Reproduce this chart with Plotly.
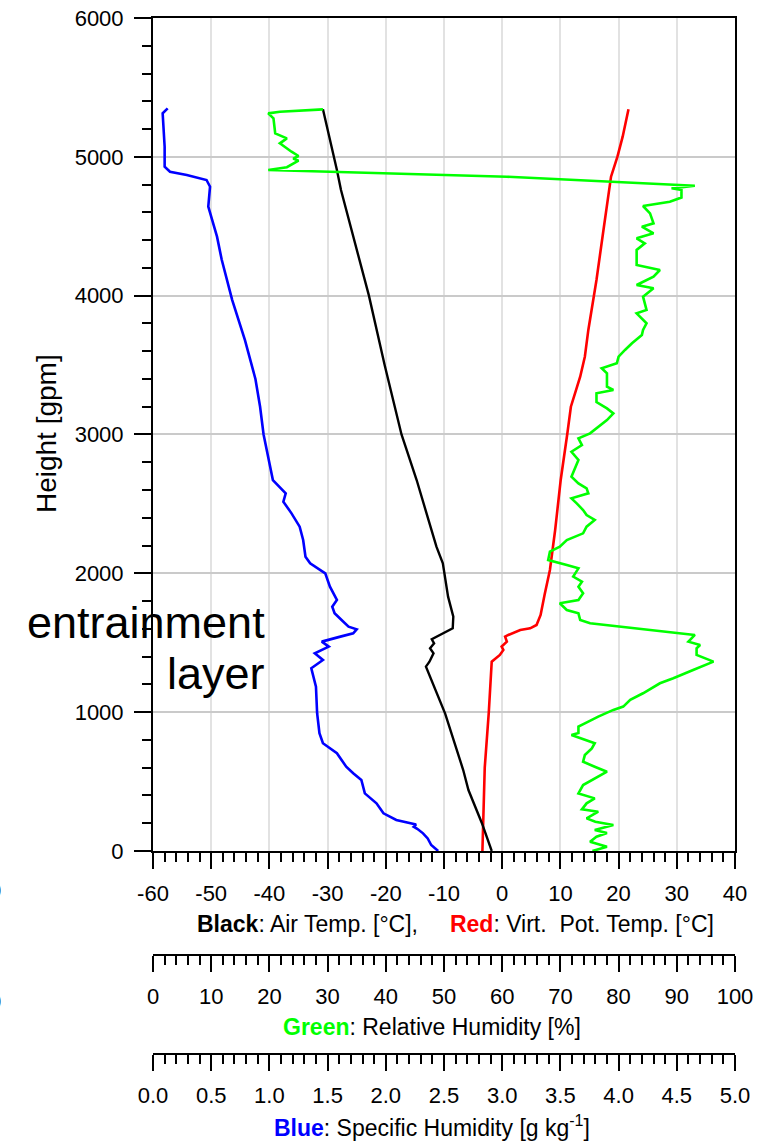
import plotly.graph_objects as go

FONT = "Liberation Sans, Arial, sans-serif"

# ---- Sounding profile data (height in gpm) ----
# Air temperature [°C] (black)
air_height = [0, 202, 439, 583, 990, 1328, 1363, 1424, 1460, 1496, 1525, 1556, 1604, 1688,
              1832, 2072, 2192, 2432, 2672, 3000, 3500, 4000, 4425, 4593, 4761, 4905, 5073,
              5217, 5342]
air_temp = [-1.8, -3.5, -5.8, -6.7, -9.8, -13.1, -12.5, -11.8, -12.4, -11.7, -12.1, -10.7,
            -8.5, -8.4, -9.3, -10.2, -11.3, -13.0, -14.7, -17.3, -20.2, -22.9, -25.6, -26.7,
            -27.7, -28.4, -29.3, -30.0, -30.8]

# Virtual potential temperature [°C] (red)
vpt_height = [0, 200, 600, 1000, 1330, 1364, 1412, 1448, 1472, 1508, 1544, 1556, 1592, 1604,
              1628, 1700, 1850, 2024, 2312, 2672, 3009, 3200, 3416, 3560, 3753, 4113, 4473,
              4857, 5001, 5145, 5342]
vpt_temp = [-3.4, -3.3, -3.0, -2.3, -1.9, -1.8, -0.4, 0.2, -0.1, 0.8, 0.5, 1.05, 3.1, 4.8,
            5.9, 6.6, 7.3, 8.2, 9.1, 10.05, 11.2, 11.8, 13.4, 14.2, 14.8, 16.2, 17.4, 18.7,
            19.8, 20.7, 21.7]

# Relative humidity [%] (green)
rh_height = [0, 30, 67, 103, 130, 151, 187, 210, 235, 283,
             300, 343, 379, 415, 475, 511, 571, 607, 643, 691,
             739, 776, 836, 850, 896, 932, 968, 1016, 1040, 1088,
             1136, 1208, 1244, 1304, 1364, 1412, 1460, 1484, 1508, 1556,
             1580, 1604, 1640, 1664, 1712, 1736, 1784, 1808, 1856, 1904,
             1940, 1976, 2036, 2060, 2096, 2156, 2192, 2240, 2288, 2336,
             2384, 2420, 2456, 2504, 2540, 2576, 2612, 2648, 2696, 2816,
             2876, 2924, 2972, 3008, 3044, 3104, 3152, 3188, 3234, 3297,
             3321, 3345, 3441, 3477, 3513, 3561, 3609, 3657, 3717, 3753,
             3801, 3873, 3897, 3993, 4053, 4077, 4137, 4185, 4221, 4329,
             4377, 4413, 4449, 4497, 4521, 4593, 4646, 4677, 4707, 4761,
             4773, 4792, 4857, 4905, 4925, 4953, 4972, 4987, 5006, 5037,
             5073, 5097, 5133, 5157, 5169, 5277, 5313, 5325, 5342]
rh_value = [75.5, 78.0, 75.1, 76.2, 78.0, 75.9, 79.1, 76.0, 74.5, 76.5,
            73.7, 74.5, 75.9, 73.1, 73.9, 75.4, 78.0, 75.9, 73.9, 74.2,
            75.4, 75.9, 71.9, 73.1, 73.1, 74.8, 76.5, 79.1, 80.8, 82.0,
            84.2, 87.1, 89.4, 92.8, 96.3, 93.4, 93.4, 94.0, 92.0, 93.1,
            88.2, 83.1, 75.1, 73.4, 73.1, 71.1, 69.9, 73.1, 73.9, 73.1,
            73.7, 72.2, 73.1, 71.1, 67.9, 68.2, 69.9, 71.1, 73.9, 74.5,
            75.9, 74.5, 73.9, 72.8, 71.9, 74.8, 74.5, 73.1, 71.9, 73.1,
            71.9, 73.7, 73.1, 75.1, 76.2, 78.0, 79.1, 78.0, 76.2, 76.2,
            79.1, 78.0, 78.0, 77.1, 79.7, 80.0, 81.1, 82.3, 84.0, 84.2,
            84.8, 83.1, 84.8, 84.2, 86.0, 83.1, 86.0, 87.1, 83.1, 83.1,
            84.5, 83.1, 86.0, 84.0, 86.0, 85.4, 84.2, 88.8, 90.8, 90.8,
            89.1, 93.1, 60.8, 19.8, 23.0, 24.1, 25.0, 24.1, 25.0, 23.8,
            22.7, 21.8, 23.0, 21.8, 21.0, 20.7, 19.8, 21.8, 29.2]

# Specific humidity [g/kg] (blue)
q_height = [0, 43, 90, 127, 160, 175, 190, 210, 223, 271,
            343, 415, 511, 560, 607, 704, 776, 848, 992, 1184,
            1316, 1376, 1424, 1472, 1508, 1544, 1568, 1597, 1616, 1664,
            1712, 1760, 1808, 1904, 2000, 2072, 2120, 2240, 2336, 2432,
            2516, 2576, 2672, 3000, 3200, 3400, 3680, 3970, 4260, 4425,
            4641, 4785, 4833, 4869, 4893, 4929, 5073, 5313, 5349]
q_value = [2.45, 2.39, 2.36, 2.32, 2.27, 2.24, 2.26, 2.15, 2.09, 1.98,
           1.92, 1.82, 1.79, 1.72, 1.66, 1.58, 1.46, 1.43, 1.41, 1.40,
           1.36, 1.46, 1.39, 1.51, 1.45, 1.61, 1.72, 1.75, 1.68, 1.62,
           1.56, 1.54, 1.58, 1.52, 1.48, 1.35, 1.31, 1.29, 1.26, 1.19,
           1.12, 1.14, 1.03, 0.95, 0.92, 0.88, 0.79, 0.68, 0.59, 0.55,
           0.475, 0.49, 0.46, 0.29, 0.146, 0.10, 0.10, 0.083, 0.126]

# Axis tick labels
temp_ticks = [-60, -50, -40, -30, -20, -10, 0, 10, 20, 30, 40]
temp_labels = ["-60", "-50", "-40", "-30", "-20", "-10", "0", "10", "20", "30", "40"]
rh_ticks = [0, 10, 20, 30, 40, 50, 60, 70, 80, 90, 100]
q_ticks = [0.0, 0.5, 1.0, 1.5, 2.0, 2.5, 3.0, 3.5, 4.0, 4.5, 5.0]
height_ticks = [0, 1000, 2000, 3000, 4000, 5000, 6000]

fig = go.Figure()
fig.add_trace(go.Scatter(x=q_value, y=q_height, mode="lines", xaxis="x3", yaxis="y",
                         line=dict(color="#0000ff", width=2.6)))
fig.add_trace(go.Scatter(x=rh_value, y=rh_height, mode="lines", xaxis="x2", yaxis="y",
                         line=dict(color="#00ff00", width=2.6)))
fig.add_trace(go.Scatter(x=vpt_temp, y=vpt_height, mode="lines", xaxis="x", yaxis="y",
                         line=dict(color="#ff0000", width=2.6)))
fig.add_trace(go.Scatter(x=air_temp, y=air_height, mode="lines", xaxis="x", yaxis="y",
                         line=dict(color="#000000", width=2.4)))

tickfont = dict(family=FONT, size=22, color="black")
minor_x = dict(ticks="outside", ticklen=9, tickwidth=1.5, tickcolor="black", showgrid=False)


def bottom_axis(**kw):
    base = dict(ticks="outside", ticklen=16, tickwidth=2, tickcolor="black",
                showline=True, linecolor="black", linewidth=2, zeroline=False,
                tickfont=tickfont, ticklabelstandoff=6, automargin=False)
    base.update(kw)
    return base


fig.update_layout(
    width=775, height=1144,
    margin=dict(l=153, r=40, t=18, b=10, autoexpand=False),
    plot_bgcolor="white", paper_bgcolor="white",
    showlegend=False,
    font=dict(family=FONT, size=22, color="black"),
    xaxis=bottom_axis(range=[-60, 40], tickmode="array", tickvals=temp_ticks,
                      ticktext=temp_labels, mirror=True, anchor="y",
                      showgrid=True, gridcolor="#e2e2e2", gridwidth=1.5,
                      minor=dict(dtick=2, tick0=0, **minor_x)),
    xaxis2=bottom_axis(range=[0, 100], tickmode="array", tickvals=rh_ticks,
                       overlaying="x", anchor="free", position=0.1604, side="bottom",
                       showgrid=False, minor=dict(dtick=2, tick0=0, **minor_x)),
    xaxis3=bottom_axis(range=[0, 5], tickmode="array", tickvals=q_ticks,
                       tickformat=".1f", overlaying="x", anchor="free", position=0.0717,
                       side="bottom", showgrid=False,
                       minor=dict(dtick=0.1, tick0=0, **minor_x)),
    yaxis=dict(domain=[0.2536, 1], range=[0, 6000], tickmode="array",
               tickvals=height_ticks, tickformat="d", ticks="outside", ticklen=17,
               tickwidth=2, tickcolor="black", showline=True, linecolor="black",
               linewidth=2, mirror=True, zeroline=False, showgrid=True,
               gridcolor="#cacaca", gridwidth=1.5, tickfont=tickfont,
               ticklabelstandoff=6, automargin=False,
               minor=dict(dtick=200, tick0=0, ticks="outside", ticklen=9, tickwidth=1.5,
                          tickcolor="black", showgrid=False)),
)

black_font = lambda size: dict(family=FONT, size=size, color="#000000")

annotations = [
    dict(text="Height [gpm]", textangle=-90, x=-0.1838, y=0.6272, xref="paper", yref="paper",
         xanchor="center", yanchor="middle", showarrow=False, font=black_font(28)),
    dict(text="<b>Black</b>: Air Temp. [°C],\u00a0\u00a0\u00a0\u00a0 "
              "<span style='color:#ff0000'><b>Red</b></span>: Virt.\u00a0\u00a0Pot. Temp. [°C]",
         x=0.5200, y=0.1886, xref="paper", yref="paper", xanchor="center", yanchor="middle",
         showarrow=False, font=black_font(23)),
    dict(text="<span style='color:#00ff00'><b>Green</b></span>: Relative Humidity [%]",
         x=0.4802, y=0.0963, xref="paper", yref="paper", xanchor="center", yanchor="middle",
         showarrow=False, font=black_font(23)),
    dict(text="<span style='color:#0000ff'><b>Blue</b></span>: Specific Humidity [g\u00a0kg<sup>-1</sup>]",
         x=0.4802, y=0.0070, xref="paper", yref="paper", xanchor="center", yanchor="middle",
         showarrow=False, font=black_font(23)),
    dict(text="entrainment", x=-40.4, y=1649, xref="x", yref="y", xanchor="right",
         yanchor="middle", showarrow=False, font=black_font(45)),
    dict(text="layer", x=-40.4, y=1275, xref="x", yref="y", xanchor="right",
         yanchor="middle", showarrow=False, font=black_font(45)),
    dict(text="0", x=-0.2569, y=0.2182, xref="paper", yref="paper", xanchor="right",
         yanchor="middle", showarrow=False, font=black_font(22)),
    dict(text="0", x=-0.2569, y=0.1187, xref="paper", yref="paper", xanchor="right",
         yanchor="middle", showarrow=False, font=black_font(22)),
]
fig.update_layout(annotations=annotations)

fig.write_html("out.html")
